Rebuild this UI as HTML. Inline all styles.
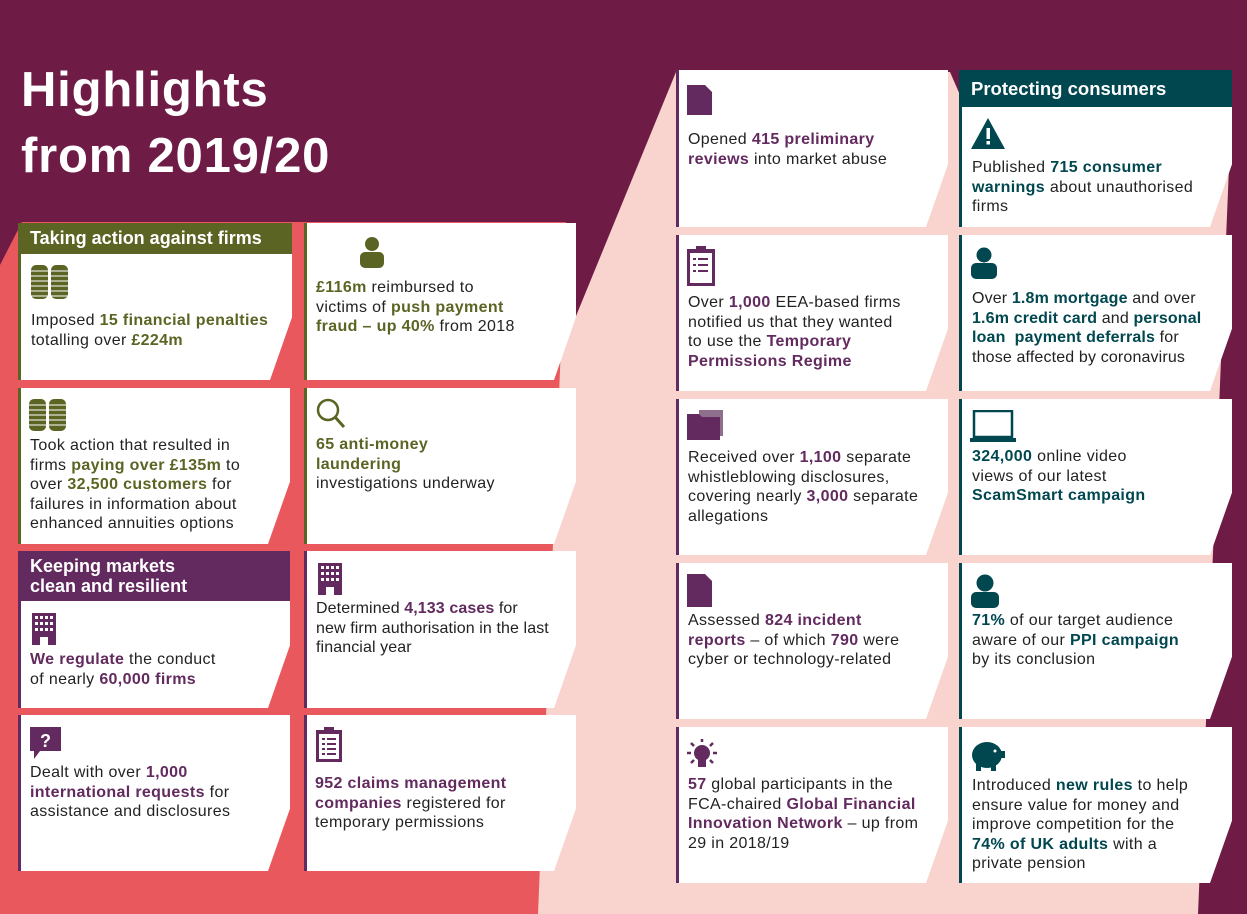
<!DOCTYPE html>
<html><head><meta charset="utf-8">
<style>
*{margin:0;padding:0;box-sizing:border-box}
body{width:1247px;height:914px;overflow:hidden;background:#6e1c46;font-family:"Liberation Sans",sans-serif;position:relative}
svg.bg{position:absolute;left:0;top:0}
.title{position:absolute;left:21px;color:#fff;font-weight:bold;font-size:49px;line-height:66px;top:57px;letter-spacing:0.8px}
.card{position:absolute;background:#fff;clip-path:polygon(0 0,100% 0,100% 60%,calc(100% - 22px) 100%,0 100%)}
.ol{border-left:3px solid #5c6424}
.pu{border-left:3px solid #622a5e}
.te{border-left:3px solid #00474f}
.hd{position:absolute;color:#fff;font-weight:bold;font-size:18px;line-height:20px;padding-left:12px}
.t{position:absolute;font-size:16px;line-height:19.6px;color:#222;letter-spacing:0.35px;white-space:nowrap}
.t b{font-weight:bold}
.g b{color:#5c6424}.p b{color:#622a5e}.c b{color:#00474f}
.ic{position:absolute}
</style></head><body>
<svg class="bg" width="1247" height="914">
<polygon points="676,72 950,72 960,95 1232,95 1198,914 331,914" fill="#f9d3ce"/>
<polygon points="0,265 22,222 566,222 538,914 0,914" fill="#e8585c"/>
</svg>
<div class="title">Highlights<br>from 2019/20</div>

<div class="card ol" style="left:18px;top:223px;width:274px;height:157px"></div>
<div class="hd" style="left:18px;top:223px;width:274px;height:31px;background:#5c6424;line-height:31px">Taking action against firms</div>
<svg class="ic" style="left:31px;top:265px" width="40" height="34"><g fill="#5c6424"><rect x="0" y="0" width="17" height="34" rx="5"/><rect x="20" y="0" width="17" height="34" rx="5"/></g><g stroke="#fff" stroke-width="1"><path d="M0 6h37M0 11h37M0 16h37M0 21h37M0 26h37M0 31h37"/></g></svg>
<div class="t g" style="left:31px;top:311px">Imposed <b>15 financial penalties</b><br>totalling over <b>£224m</b></div>

<div class="card ol" style="left:304px;top:223px;width:272px;height:157px"></div>
<svg class="ic" style="left:359px;top:236px" width="26" height="32"><circle cx="13" cy="8" r="7" fill="#5c6424"/><rect x="1" y="16" width="24" height="16" rx="5" fill="#5c6424"/></svg>
<div class="t g" style="left:316px;top:278px"><b>£116m</b> reimbursed to<br>victims of <b>push payment<br>fraud – up 40%</b> from 2018</div>

<div class="card ol" style="left:18px;top:388px;width:272px;height:156px"></div>
<svg class="ic" style="left:29px;top:399px" width="40" height="34"><g fill="#5c6424"><rect x="0" y="0" width="17" height="32" rx="5"/><rect x="20" y="0" width="17" height="32" rx="5"/></g><g stroke="#fff" stroke-width="1"><path d="M0 6h37M0 11h37M0 16h37M0 21h37M0 26h37"/></g></svg>
<div class="t g" style="left:30px;top:436px">Took action that resulted in<br>firms <b>paying over £135m</b> to<br>over <b>32,500 customers</b> for<br>failures in information about<br>enhanced annuities options</div>

<div class="card ol" style="left:304px;top:388px;width:272px;height:156px"></div>
<svg class="ic" style="left:316px;top:398px" width="30" height="32"><circle cx="12" cy="12" r="10" fill="none" stroke="#5c6424" stroke-width="2.5"/><path d="M19 19l9 10" stroke="#5c6424" stroke-width="3"/></svg>
<div class="t g" style="left:316px;top:435px"><b>65 anti-money<br>laundering</b><br>investigations underway</div>

<div class="card pu" style="left:18px;top:551px;width:272px;height:157px"></div>
<div class="hd" style="left:18px;top:551px;width:272px;height:50px;background:#622a5e;padding-top:5px">Keeping markets<br>clean and resilient</div>
<svg class="ic" style="left:30px;top:613px" width="28" height="32"><rect x="2" y="0" width="24" height="32" fill="#622a5e"/><g fill="#fff"><rect x="5" y="3" width="3" height="3"/><rect x="10" y="3" width="3" height="3"/><rect x="15" y="3" width="3" height="3"/><rect x="20" y="3" width="3" height="3"/><rect x="5" y="9" width="3" height="3"/><rect x="10" y="9" width="3" height="3"/><rect x="15" y="9" width="3" height="3"/><rect x="20" y="9" width="3" height="3"/><rect x="5" y="15" width="3" height="3"/><rect x="10" y="15" width="3" height="3"/><rect x="15" y="15" width="3" height="3"/><rect x="20" y="15" width="3" height="3"/><rect x="10" y="24" width="8" height="8"/></g></svg>
<div class="t p" style="left:30px;top:650px"><b>We regulate</b> the conduct<br>of nearly <b>60,000 firms</b></div>

<div class="card pu" style="left:304px;top:551px;width:272px;height:157px"></div>
<svg class="ic" style="left:316px;top:563px" width="28" height="32"><rect x="2" y="0" width="24" height="32" fill="#622a5e"/><g fill="#fff"><rect x="5" y="3" width="3" height="3"/><rect x="10" y="3" width="3" height="3"/><rect x="15" y="3" width="3" height="3"/><rect x="20" y="3" width="3" height="3"/><rect x="5" y="9" width="3" height="3"/><rect x="10" y="9" width="3" height="3"/><rect x="15" y="9" width="3" height="3"/><rect x="20" y="9" width="3" height="3"/><rect x="5" y="15" width="3" height="3"/><rect x="10" y="15" width="3" height="3"/><rect x="15" y="15" width="3" height="3"/><rect x="20" y="15" width="3" height="3"/><rect x="10" y="24" width="8" height="8"/></g></svg>
<div class="t p" style="left:316px;top:599px;letter-spacing:0.1px">Determined <b>4,133 cases</b> for<br>new firm authorisation in the last<br>financial year</div>

<div class="card pu" style="left:18px;top:715px;width:272px;height:156px"></div>
<svg class="ic" style="left:30px;top:727px" width="32" height="34"><path d="M0 0h31v24H10l-6 8v-8H0z" fill="#622a5e"/><text x="15.5" y="20" fill="#fff" font-size="18" font-weight="bold" text-anchor="middle" font-family="Liberation Sans">?</text></svg>
<div class="t p" style="left:30px;top:763px">Dealt with over <b>1,000<br>international requests</b> for<br>assistance and disclosures</div>

<div class="card pu" style="left:304px;top:715px;width:272px;height:156px"></div>
<svg class="ic" style="left:315px;top:727px" width="28" height="36"><rect x="1" y="3" width="26" height="32" fill="#622a5e"/><rect x="9" y="0" width="10" height="5" fill="#622a5e"/><rect x="4" y="7" width="20" height="25" fill="#fff"/><g stroke="#622a5e" stroke-width="2"><path d="M7 12h3M12 12h9M7 17h3M12 17h9M7 22h3M12 22h9M7 27h3M12 27h9"/></g></svg>
<div class="t p" style="left:315px;top:774px"><b>952 claims management<br>companies</b> registered for<br>temporary permissions</div>

<div class="card pu" style="left:676px;top:70px;width:272px;height:157px"></div>
<svg class="ic" style="left:687px;top:85px" width="26" height="30"><path d="M0 0h18l7 7v23H0z" fill="#622a5e"/></svg>
<div class="t p" style="left:688px;top:130px">Opened <b>415 preliminary<br>reviews</b> into market abuse</div>

<div class="card pu" style="left:676px;top:235px;width:272px;height:156px"></div>
<svg class="ic" style="left:687px;top:246px" width="28" height="40"><rect x="0" y="3" width="28" height="37" fill="#622a5e"/><rect x="9" y="0" width="10" height="5" fill="#622a5e"/><rect x="3" y="7" width="22" height="30" fill="#fff"/><g stroke="#622a5e" stroke-width="2"><path d="M6 13h3M11 13h10M6 19h3M11 19h10M6 25h3M11 25h10"/></g></svg>
<div class="t p" style="left:688px;top:293px">Over <b>1,000</b> EEA-based firms<br>notified us that they wanted<br>to use the <b>Temporary<br>Permissions Regime</b></div>

<div class="card pu" style="left:676px;top:399px;width:272px;height:156px"></div>
<svg class="ic" style="left:687px;top:410px" width="38" height="30"><rect x="12" y="0" width="24" height="26" fill="#8e6f8c"/><path d="M0 4h12l3 3h18v23H0z" fill="#622a5e"/></svg>
<div class="t p" style="left:688px;top:448px">Received over <b>1,100</b> separate<br>whistleblowing disclosures,<br>covering nearly <b>3,000</b> separate<br>allegations</div>

<div class="card pu" style="left:676px;top:563px;width:272px;height:156px"></div>
<svg class="ic" style="left:687px;top:574px" width="26" height="33"><path d="M0 0h18l7 7v26H0z" fill="#622a5e"/></svg>
<div class="t p" style="left:688px;top:611px">Assessed <b>824 incident<br>reports</b> – of which <b>790</b> were<br>cyber or technology-related</div>

<div class="card pu" style="left:676px;top:727px;width:272px;height:156px"></div>
<svg class="ic" style="left:686px;top:739px" width="32" height="33"><circle cx="16" cy="14" r="8" fill="#622a5e"/><rect x="12" y="20" width="8" height="8" fill="#622a5e"/><g stroke="#622a5e" stroke-width="2.5"><path d="M16 0v3M1 14h4M27 14h4M5 4l3 3M27 4l-3 3M5 24l3-3M27 24l-3-3"/></g></svg>
<div class="t p" style="left:688px;top:775px"><b>57</b> global participants in the<br>FCA-chaired <b>Global Financial<br>Innovation Network</b> – up from<br>29 in 2018/19</div>

<div class="card te" style="left:959px;top:70px;width:273px;height:157px"></div>
<div class="hd" style="left:959px;top:70px;width:273px;height:37px;background:#00474f;line-height:38px;font-size:18.5px">Protecting consumers</div>
<svg class="ic" style="left:971px;top:118px" width="34" height="31"><path d="M17 0L34 31H0z" fill="#00474f"/><rect x="15.5" y="10" width="3.5" height="11" fill="#fff"/><rect x="15.5" y="23" width="3.5" height="3.5" fill="#fff"/></svg>
<div class="t c" style="left:972px;top:158px">Published <b>715 consumer<br>warnings</b> about unauthorised<br>firms</div>

<div class="card te" style="left:959px;top:235px;width:273px;height:156px"></div>
<svg class="ic" style="left:971px;top:247px" width="26" height="32"><circle cx="13" cy="8" r="7.5" fill="#00474f"/><rect x="0" y="16" width="26" height="16" rx="5" fill="#00474f"/></svg>
<div class="t c" style="left:972px;top:289px;letter-spacing:0.15px">Over <b>1.8m mortgage</b> and over<br><b>1.6m credit card</b> and <b>personal<br>loan&nbsp; payment deferrals</b> for<br>those affected by coronavirus</div>

<div class="card te" style="left:959px;top:399px;width:273px;height:156px"></div>
<svg class="ic" style="left:970px;top:410px" width="48" height="33"><rect x="4" y="1" width="38" height="26" fill="none" stroke="#00474f" stroke-width="2.5"/><rect x="0" y="28" width="46" height="4" fill="#00474f"/></svg>
<div class="t c" style="left:972px;top:447px"><b>324,000</b> online video<br>views of our latest<br><b>ScamSmart campaign</b></div>

<div class="card te" style="left:959px;top:563px;width:273px;height:156px"></div>
<svg class="ic" style="left:971px;top:574px" width="28" height="34"><circle cx="14" cy="9" r="8.5" fill="#00474f"/><rect x="0" y="18" width="28" height="16" rx="5" fill="#00474f"/></svg>
<div class="t c" style="left:972px;top:611px"><b>71%</b> of our target audience<br>aware of our <b>PPI campaign</b><br>by its conclusion</div>

<div class="card te" style="left:959px;top:727px;width:273px;height:156px"></div>
<svg class="ic" style="left:971px;top:738px" width="36" height="34"><ellipse cx="16" cy="17" rx="15" ry="13" fill="#00474f"/><rect x="5" y="26" width="5" height="7" fill="#00474f"/><rect x="20" y="26" width="5" height="7" fill="#00474f"/><rect x="29" y="13" width="5" height="7" fill="#00474f"/><circle cx="24" cy="13" r="1.5" fill="#fff"/></svg>
<div class="t c" style="left:972px;top:776px">Introduced <b>new rules</b> to help<br>ensure value for money and<br>improve competition for the<br><b>74% of UK adults</b> with a<br>private pension</div>
</body></html>
